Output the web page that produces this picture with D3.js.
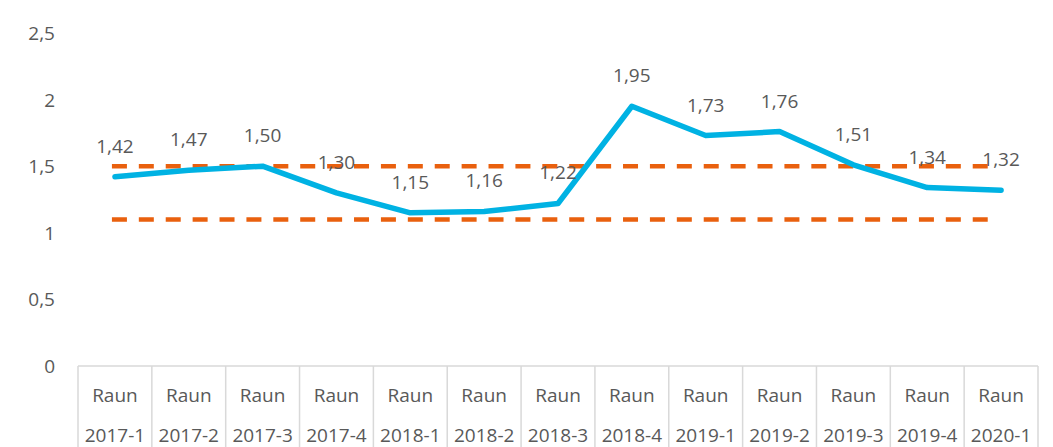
<!DOCTYPE html>
<html>
<head>
<meta charset="utf-8">
<script src="https://cdn.jsdelivr.net/npm/d3@7"></script>
<style>
  html, body { margin: 0; padding: 0; background: #fff; }
  svg { display: block; }
  text { font-family: "Open Sans", sans-serif; fill: #595959; }
</style>
</head>
<body>
<svg id="chart" width="1053" height="447"></svg>
<script>
const categoriesTop = ["Raun","Raun","Raun","Raun","Raun","Raun","Raun","Raun","Raun","Raun","Raun","Raun","Raun"];
const categoriesBottom = ["2017-1","2017-2","2017-3","2017-4","2018-1","2018-2","2018-3","2018-4","2019-1","2019-2","2019-3","2019-4","2020-1"];
const values = [1.42,1.47,1.50,1.30,1.15,1.16,1.22,1.95,1.73,1.76,1.51,1.34,1.32];
const upperLimit = 1.5;
const lowerLimit = 1.1;
const yTicks = [0,0.5,1,1.5,2,2.5];

const svg = d3.select("#chart");
const plotLeft = 78, plotRight = 1038, plotTop = 33, plotBottom = 366;

const x = d3.scaleBand().domain(d3.range(values.length)).range([plotLeft, plotRight]).padding(0);
const cx = i => x(i) + x.bandwidth() / 2;
const y = d3.scaleLinear().domain([0, 2.5]).range([plotBottom, plotTop]);

const fmt = v => d3.format(".2f")(v).replace(".", ",");
const fmtTick = v => String(v).replace(".", ",");

// Y tick labels
svg.append("g").selectAll("text").data(yTicks).join("text")
  .attr("x", 55).attr("y", d => y(d))
  .attr("text-anchor", "end").attr("dominant-baseline", "central")
  .attr("font-size", 19)
  .text(fmtTick);

// Table-like category axis
const grid = "#d9d9d9";
svg.append("line").attr("x1", plotLeft).attr("x2", plotRight).attr("y1", plotBottom).attr("y2", plotBottom)
  .attr("stroke", grid).attr("stroke-width", 1.5);
const bounds = d3.range(values.length + 1).map(i => i < values.length ? x(i) : plotRight);
svg.append("g").selectAll("line").data(bounds).join("line")
  .attr("x1", d => d).attr("x2", d => d).attr("y1", plotBottom).attr("y2", 447)
  .attr("stroke", grid).attr("stroke-width", 1.5);

svg.append("g").selectAll("text").data(categoriesTop).join("text")
  .attr("x", (d, i) => cx(i)).attr("y", 395)
  .attr("text-anchor", "middle").attr("dominant-baseline", "central")
  .attr("font-size", 19).text(d => d);
svg.append("g").selectAll("text").data(categoriesBottom).join("text")
  .attr("x", (d, i) => cx(i)).attr("y", 435)
  .attr("text-anchor", "middle").attr("dominant-baseline", "central")
  .attr("font-size", 19).text(d => d);

// Limit dashed lines
const orange = "#E9600E";
[upperLimit, lowerLimit].forEach(v => {
  svg.append("line")
    .attr("x1", cx(0) - 3).attr("x2", cx(values.length - 1) - 3)
    .attr("y1", y(v)).attr("y2", y(v))
    .attr("stroke", orange).attr("stroke-width", 4.5)
    .attr("stroke-dasharray", "15 11.9");
});

// Main line
const line = d3.line().x((d, i) => cx(i)).y(d => y(d));
svg.append("path").datum(values)
  .attr("d", line).attr("fill", "none")
  .attr("stroke", "#00B2E3").attr("stroke-width", 5.5)
  .attr("stroke-linejoin", "round").attr("stroke-linecap", "round");

// Data labels
svg.append("g").selectAll("text").data(values).join("text")
  .attr("x", (d, i) => cx(i)).attr("y", d => y(d) - 31)
  .attr("text-anchor", "middle").attr("dominant-baseline", "central")
  .attr("font-size", 19).attr("fill", "#595959")
  .text(fmt);
</script>
</body>
</html>
